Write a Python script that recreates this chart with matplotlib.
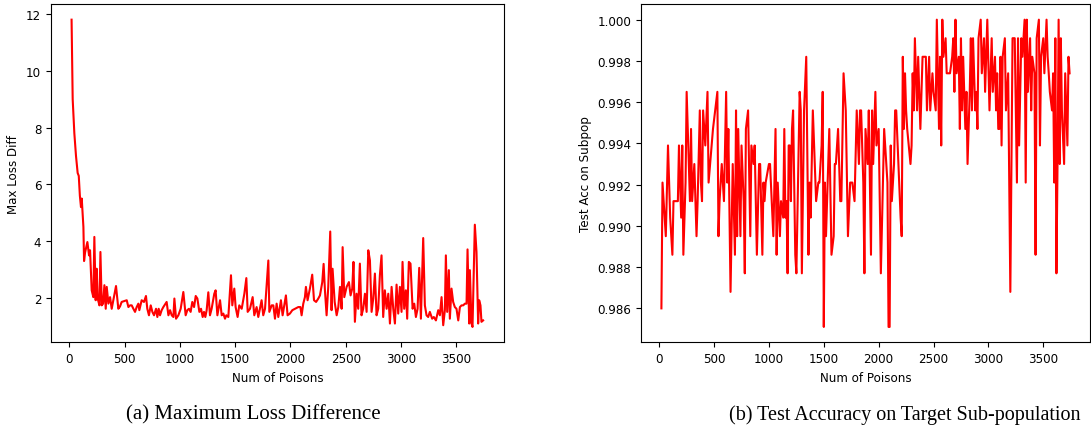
import matplotlib
matplotlib.use("Agg")
import matplotlib.pyplot as plt

# ---------------- data ----------------
loss_x = [20, 30, 45, 60, 75, 85, 95, 105, 112, 127, 133, 142, 163, 178, 187, 202, 217, 226,
          238, 247, 256, 272, 281, 293, 305, 317, 329, 338, 353, 368, 383, 398, 422, 443,
          458, 473, 519, 534, 549, 564, 579, 594, 609, 624, 633, 654, 675, 693, 705, 720,
          736, 751, 766, 784, 796, 808, 820, 835, 850, 880, 896, 911, 926, 941, 950, 965,
          986, 1007, 1031, 1052, 1067, 1082, 1097, 1112, 1128, 1143, 1158, 1176, 1191, 1206,
          1218, 1230, 1242, 1257, 1272, 1287, 1311, 1323, 1339, 1363, 1378, 1393, 1408, 1420,
          1438, 1462, 1474, 1492, 1504, 1522, 1537, 1559, 1583, 1601, 1613, 1634, 1658, 1673,
          1694, 1709, 1724, 1739, 1754, 1770, 1800, 1809, 1830, 1845, 1860, 1875, 1890, 1914,
          1929, 1944, 1959, 1974, 1995, 2017, 2041, 2071, 2090, 2101, 2116, 2131, 2140, 2155,
          2176, 2197, 2213, 2232, 2252, 2267, 2288, 2300, 2312, 2327, 2342, 2360, 2372, 2381,
          2400, 2418, 2433, 2448, 2463, 2472, 2487, 2508, 2529, 2544, 2559, 2570, 2583, 2598,
          2613, 2628, 2643, 2658, 2674, 2689, 2704, 2719, 2734, 2749, 2764, 2779, 2794, 2809,
          2824, 2839, 2854, 2870, 2885, 2900, 2915, 2930, 2945, 2960, 2975, 2990, 3005, 3014,
          3029, 3044, 3056, 3071, 3086, 3105, 3120, 3135, 3150, 3165, 3180, 3201, 3216, 3231,
          3246, 3261, 3282, 3297, 3316, 3337, 3352, 3367, 3382, 3397, 3406, 3418, 3433, 3442,
          3457, 3472, 3487, 3502, 3518, 3533, 3548, 3563, 3578, 3593, 3602, 3617, 3623, 3638,
          3647, 3668, 3683, 3698, 3707, 3719, 3728, 3743]
loss_y = [11.8, 9.0, 7.8, 7.0, 6.4, 6.3, 5.6, 5.2, 5.5, 4.5, 3.3, 3.6, 3.97, 3.5, 3.68, 2.27, 2.03, 4.15,
          1.92, 3.03, 1.98, 1.74, 3.62, 1.74, 1.8, 2.45, 1.62, 2.39, 1.8, 2.03, 1.62, 1.92, 2.42, 1.62,
          1.7, 1.86, 1.92, 1.68, 1.74, 1.74, 1.62, 1.51, 1.68, 1.8, 1.57, 1.92, 1.86, 2.07, 1.62, 1.39,
          1.74, 1.51, 1.39, 1.62, 1.33, 1.62, 1.39, 1.57, 1.68, 1.86, 1.39, 1.57, 1.39, 1.33, 1.98, 1.27,
          1.39, 1.62, 2.21, 1.39, 1.57, 1.62, 1.51, 1.86, 1.68, 2.07, 1.98, 1.51, 1.62, 1.33,
          1.51, 1.33, 1.57, 2.2, 1.39, 1.62, 2.15, 2.27, 1.39, 1.92, 1.39, 1.45, 1.27, 1.39,
          1.33, 2.8, 1.74, 2.33, 1.68, 1.33, 1.74, 1.62, 2.15, 2.7, 1.51, 1.62, 2.03, 1.39,
          1.68, 1.33, 1.62, 1.92, 1.39, 1.62, 3.32, 1.51, 1.74, 1.74, 1.27, 1.8, 1.33, 1.92,
          1.39, 1.74, 2.09, 1.39, 1.45, 1.57, 1.62, 1.68, 1.68, 1.39, 1.8, 2.03, 2.39, 1.92,
          2.33, 2.82, 1.92, 1.86, 1.98, 2.09, 2.56, 3.2, 2.27, 1.39, 2.39, 4.34, 1.57, 3.03,
          1.86, 1.39, 1.68, 2.39, 1.62, 3.79, 2.03, 2.39, 2.56, 2.09, 2.33, 3.27, 1.16, 2.15,
          1.62, 3.21, 1.39, 1.62, 2.15, 1.51, 3.68, 3.32, 1.51, 1.98, 2.86, 1.39, 1.62, 2.8,
          3.5, 1.33, 2.27, 1.62, 2.15, 1.1, 2.39, 1.62, 1.1, 2.47, 1.45, 2.39, 1.51, 3.27,
          1.62, 2.27, 1.27, 3.27, 3.21, 1.62, 1.8, 1.33, 1.62, 3.06, 1.27, 4.11, 1.74, 1.39,
          1.33, 1.51, 1.27, 1.33, 1.21, 1.57, 1.39, 2.03, 1.04, 1.57, 3.5, 1.51, 2.98, 1.27,
          2.33, 1.86, 1.68, 1.62, 1.21, 1.68, 1.74, 1.74, 1.8, 1.8, 3.71, 1.1, 2.98, 1.1,
          0.98, 4.58, 3.62, 1.1, 1.92, 1.74, 1.16, 1.21]

acc_x = [20, 30, 60, 80, 100, 120, 130, 170, 180, 200, 210, 220, 240, 250, 280, 290, 300, 320, 340,
         350, 370, 380, 390, 400, 420, 440, 450, 490, 510, 530, 540, 550, 570, 590, 610, 620, 630,
         650, 670, 690, 700, 710, 720, 740, 750, 770, 780, 790, 810, 830, 840, 860, 870, 890, 910,
         920, 940, 950, 960, 970, 1000, 1010, 1040, 1060, 1070, 1080, 1100, 1110, 1130, 1140, 1150,
         1160, 1170, 1180, 1190, 1200, 1210, 1220, 1240, 1250, 1280, 1290, 1300, 1320, 1340, 1360,
         1370, 1380, 1400, 1430, 1450, 1460, 1480, 1490, 1500, 1510, 1520, 1540, 1550, 1570, 1590,
         1600, 1610, 1630, 1650, 1660, 1680, 1700, 1720, 1740, 1760, 1780, 1800, 1820, 1830, 1840,
         1860, 1870, 1880, 1900, 1910, 1930, 1940, 1950, 1970, 1980, 2000, 2020, 2050, 2080, 2090,
         2100, 2110, 2120, 2140, 2150, 2160, 2200, 2210, 2220, 2230, 2240, 2250, 2260, 2290, 2300,
         2310, 2320, 2330, 2340, 2350, 2360, 2380, 2400, 2430, 2440, 2460, 2470, 2490, 2500, 2520,
         2530, 2550, 2560, 2570, 2580, 2590, 2610, 2620, 2650, 2670, 2680, 2690, 2700, 2710, 2730,
         2740, 2750, 2760, 2770, 2790, 2800, 2810, 2830, 2840, 2850, 2860, 2880, 2890, 2900, 2910,
         2930, 2940, 2960, 2970, 2990, 3010, 3020, 3030, 3040, 3060, 3070, 3080, 3090, 3100, 3110,
         3120, 3130, 3150, 3160, 3180, 3200, 3220, 3240, 3260, 3270, 3280, 3300, 3310, 3330, 3340,
         3350, 3360, 3380, 3390, 3400, 3420, 3430, 3440, 3460, 3470, 3480, 3500, 3510, 3530, 3540,
         3550, 3560, 3580, 3590, 3600, 3610, 3620, 3630, 3640, 3650, 3660, 3670, 3690, 3700, 3720,
         3730, 3740]
acc_y = [0.9860, 0.9921, 0.9895, 0.9939, 0.9904, 0.9886, 0.9912, 0.9912, 0.9939, 0.9904, 0.9939,
         0.9886, 0.9921, 0.9965, 0.9912, 0.9947, 0.9912, 0.9930, 0.9895, 0.9912, 0.9956, 0.9921,
         0.9912, 0.9956, 0.9939, 0.9965, 0.9921, 0.9947, 0.9956, 0.9965, 0.9895, 0.9912, 0.9930,
         0.9912, 0.9965, 0.9921, 0.9947, 0.9868, 0.9930, 0.9886, 0.9956, 0.9895, 0.9947, 0.9895,
         0.9939, 0.9912, 0.9877, 0.9947, 0.9956, 0.9895, 0.9939, 0.9930, 0.9939, 0.9886, 0.9930,
         0.9930, 0.9886, 0.9921, 0.9912, 0.9921, 0.9930, 0.9930, 0.9895, 0.9947, 0.9886, 0.9921,
         0.9895, 0.9912, 0.9904, 0.9947, 0.9904, 0.9912, 0.9877, 0.9939, 0.9939, 0.9912, 0.9947,
         0.9956, 0.9886, 0.9877, 0.9965, 0.9956, 0.9877, 0.9956, 0.9982, 0.9886, 0.9921, 0.9904,
         0.9956, 0.9912, 0.9921, 0.9921, 0.9939, 0.9965, 0.9851, 0.9921, 0.9895, 0.9930, 0.9947,
         0.9886, 0.9895, 0.9930, 0.9930, 0.9947, 0.9912, 0.9912, 0.9974, 0.9956, 0.9895, 0.9921,
         0.9921, 0.9912, 0.9956, 0.9930, 0.9956, 0.9956, 0.9921, 0.9877, 0.9947, 0.9930, 0.9956,
         0.9886, 0.9956, 0.9930, 0.9965, 0.9939, 0.9947, 0.9877, 0.9947, 0.9921, 0.9851, 0.9851,
         0.9939, 0.9912, 0.9930, 0.9956, 0.9956, 0.9904, 0.9895, 0.9982, 0.9947, 0.9974, 0.9956,
         0.9947, 0.9930, 0.9939, 0.9974, 0.9956, 0.9991, 0.9974, 0.9956, 0.9982, 0.9947, 0.9982,
         0.9982, 0.9956, 0.9982, 0.9956, 0.9974, 0.9965, 0.9956, 1.0000, 0.9947, 0.9982, 0.9939,
         1.0000, 0.9982, 0.9991, 0.9974, 0.9974, 0.9982, 0.9991, 0.9965, 1.0000, 0.9974, 0.9982,
         0.9947, 0.9991, 0.9956, 0.9982, 0.9947, 0.9965, 0.9930, 0.9965, 0.9991, 0.9956, 0.9991,
         0.9956, 0.9965, 0.9947, 0.9991, 1.0000, 0.9974, 0.9991, 0.9965, 1.0000, 0.9956, 0.9974,
         0.9991, 0.9965, 0.9982, 0.9956, 0.9974, 0.9947, 0.9947, 0.9982, 0.9939, 0.9982, 0.9991,
         0.9956, 0.9974, 0.9868, 0.9991, 0.9991, 0.9921, 0.9991, 0.9939, 0.9991, 0.9982, 1.0000,
         0.9921, 1.0000, 0.9965, 0.9991, 0.9956, 0.9982, 0.9974, 0.9886, 0.9991, 1.0000, 0.9939,
         0.9982, 0.9991, 0.9974, 1.0000, 0.9982, 0.9974, 0.9965, 0.9956, 0.9974, 0.9921, 0.9991,
         0.9877, 0.9930, 1.0000, 0.9930, 0.9991, 0.9956, 0.9930, 0.9974, 0.9939, 0.9982, 0.9974]

xlabel_text = "Num of Poisons"
left_ylabel = "Max Loss Diff"
right_ylabel = "Test Acc on Subpop"
caption_a = "(a) Maximum Loss Difference"
caption_b = "(b) Test Accuracy on Target Sub-population"

# ---------------- figure ----------------
W, H = 1091, 431
fig = plt.figure(figsize=(W / 100, H / 100), dpi=100)

ax1 = fig.add_axes([51 / W, 1 - 343.3 / H, (503.7 - 51) / W, (343.3 - 5.3) / H])
ax2 = fig.add_axes([641 / W, 1 - 343.3 / H, (1090 - 641) / W, (343.3 - 5.3) / H])

tick_fs = 8.6
label_fs = 8.6

ax1.plot(loss_x, loss_y, color="red", lw=1.5)
ax1.set_xticks([0, 500, 1000, 1500, 2000, 2500, 3000, 3500])
ax1.set_yticks([2, 4, 6, 8, 10, 12])
ax1.set_xlabel(xlabel_text, fontsize=label_fs)
ax1.set_ylabel(left_ylabel, fontsize=label_fs)

ax2.plot(acc_x, acc_y, color="red", lw=1.5)
ax2.set_xticks([0, 500, 1000, 1500, 2000, 2500, 3000, 3500])
acc_ticks = [0.986, 0.988, 0.990, 0.992, 0.994, 0.996, 0.998, 1.000]
ax2.set_yticks(acc_ticks)
ax2.set_yticklabels([f"{v:.3f}" for v in acc_ticks])
ax2.set_xlabel(xlabel_text, fontsize=label_fs)
ax2.set_ylabel(right_ylabel, fontsize=label_fs)

for ax in (ax1, ax2):
    ax.tick_params(labelsize=tick_fs)

fig.text(253 / W, 1 - 415 / H, caption_a, ha="center", va="center",
         fontsize=15, family="Liberation Serif")
fig.text(905 / W, 1 - 415 / H, caption_b, ha="center", va="center",
         fontsize=14.5, family="Liberation Serif")

fig.savefig("out.png", dpi=100)
